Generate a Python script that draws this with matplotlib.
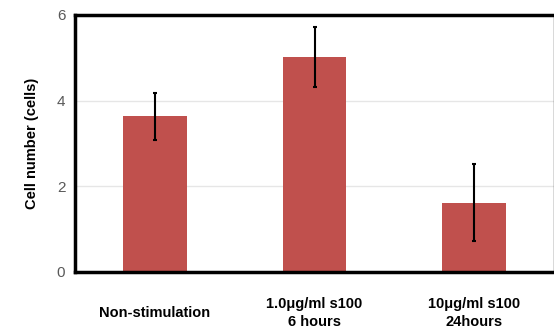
import matplotlib.pyplot as plt
import matplotlib.transforms as mtransforms

categories = ["Non-stimulation", "1.0\u03bcg/ml s100\n6 hours", "10\u03bcg/ml s100\n24hours"]
values = [3.63, 5.02, 1.61]
errors = [0.55, 0.71, 0.9]
yticks = [0, 2, 4, 6]

plt.rcParams["font.family"] = ["Liberation Sans", "DejaVu Sans"]

fig = plt.figure(figsize=(5.54, 3.29), dpi=100)
ax = fig.add_axes([75 / 554, 1 - 271.7 / 329, 479 / 554, (271.7 - 15) / 329])

x = range(len(categories))
ax.bar(x, values, width=0.4, color="#C0504D", zorder=2)
ax.errorbar(x, values, yerr=errors, fmt="none", ecolor="black", elinewidth=1.5,
            capsize=1.5, capthick=1.5, zorder=3)

ax.set_xlim(-0.5, 2.5)
ax.set_ylim(0, 6)
ax.set_yticks(yticks)
ax.yaxis.grid(True, color="#E6E6E6", linewidth=1, zorder=0)
ax.tick_params(axis="y", length=0, pad=7, labelsize=11, labelcolor="#595959")
ax.set_xticks([])
for side in ["left", "top", "bottom"]:
    ax.spines[side].set_linewidth(2.5)
    ax.spines[side].set_color("black")
ax.spines["right"].set_linewidth(1)
ax.spines["right"].set_color("#404040")

ax.set_ylabel("Cell number (cells)", fontsize=10.5, fontweight="bold", labelpad=13)

trans = mtransforms.blended_transform_factory(ax.transData, ax.transAxes)
for i, lab in enumerate(categories):
    ax.text(i, -41 / 256.7, lab, transform=trans, ha="center", va="center",
            fontsize=10.5, fontweight="bold", linespacing=1.35)

fig.savefig("out.png", dpi=100)
